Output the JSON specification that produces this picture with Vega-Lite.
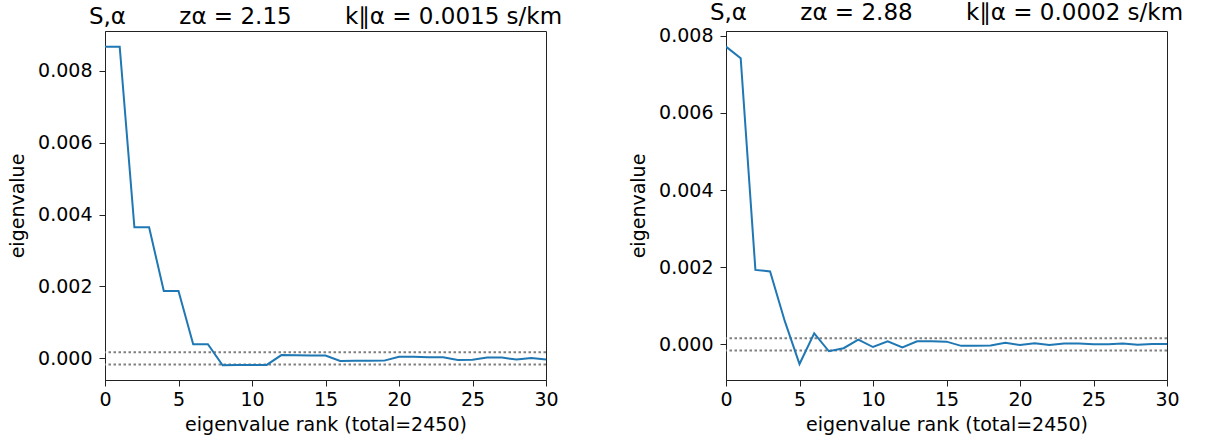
{
  "$schema": "https://vega.github.io/schema/vega-lite/v6.json",
  "padding": {"left": 8, "top": 1, "right": 5, "bottom": 5},
  "bounds": "flush",
  "spacing": 180,
  "config": {
    "font": "DejaVu Sans",
    "view": {"stroke": "#222", "strokeWidth": 1},
    "axis": {
      "grid": false,
      "domainColor": "#222",
      "tickColor": "#222",
      "tickSize": 6,
      "labelFont": "DejaVu Sans",
      "titleFont": "DejaVu Sans",
      "labelFontSize": 19,
      "titleFontSize": 19,
      "labelColor": "#000",
      "titleColor": "#000",
      "titleFontWeight": "normal",
      "labelFlush": false,
      "labelOverlap": false
    },
    "axisY": {"labelPadding": 7, "titlePadding": 10},
    "axisX": {"labelPadding": 4, "titlePadding": 6},
    "title": {"font": "DejaVu Sans", "fontSize": 23, "fontWeight": "normal", "color": "#000", "anchor": "middle", "offset": 2}
  },
  "datasets": {
    "left": [
      {"rank": 0, "value": 0.00867}, {"rank": 1, "value": 0.00867},
      {"rank": 2, "value": 0.003645}, {"rank": 3, "value": 0.003645},
      {"rank": 4, "value": 0.00187}, {"rank": 5, "value": 0.00187},
      {"rank": 6, "value": 0.00039}, {"rank": 7, "value": 0.00039},
      {"rank": 8, "value": -0.000195}, {"rank": 9, "value": -0.00019},
      {"rank": 10, "value": -0.000185}, {"rank": 11, "value": -0.000185},
      {"rank": 12, "value": 0.000088}, {"rank": 13, "value": 0.000085},
      {"rank": 14, "value": 0.00008}, {"rank": 15, "value": 0.000075},
      {"rank": 16, "value": -0.000072}, {"rank": 17, "value": -0.00007},
      {"rank": 18, "value": -0.000068}, {"rank": 19, "value": -0.000065},
      {"rank": 20, "value": 0.000045}, {"rank": 21, "value": 0.00004},
      {"rank": 22, "value": 0.000032}, {"rank": 23, "value": 0.000028},
      {"rank": 24, "value": -0.000045}, {"rank": 25, "value": -0.00004},
      {"rank": 26, "value": 0.00002}, {"rank": 27, "value": 0.00002},
      {"rank": 28, "value": -0.000035}, {"rank": 29, "value": 0.00001},
      {"rank": 30, "value": -0.000035}
    ],
    "right": [
      {"rank": 0, "value": 0.00772}, {"rank": 1, "value": 0.00742},
      {"rank": 2, "value": 0.00193}, {"rank": 3, "value": 0.00189},
      {"rank": 4, "value": 0.0006}, {"rank": 5, "value": -0.00051},
      {"rank": 6, "value": 0.000285}, {"rank": 7, "value": -0.00018},
      {"rank": 8, "value": -0.0001}, {"rank": 9, "value": 0.00012},
      {"rank": 10, "value": -0.00007}, {"rank": 11, "value": 0.00008},
      {"rank": 12, "value": -0.00008}, {"rank": 13, "value": 0.00008},
      {"rank": 14, "value": 0.00008}, {"rank": 15, "value": 0.00007},
      {"rank": 16, "value": -0.00004}, {"rank": 17, "value": -0.00004},
      {"rank": 18, "value": -0.00003}, {"rank": 19, "value": 0.00004},
      {"rank": 20, "value": -0.00002}, {"rank": 21, "value": 0.00003},
      {"rank": 22, "value": -0.00002}, {"rank": 23, "value": 0.00002},
      {"rank": 24, "value": 0.00002}, {"rank": 25, "value": 0.0},
      {"rank": 26, "value": 0.0}, {"rank": 27, "value": 0.00002},
      {"rank": 28, "value": -0.00001}, {"rank": 29, "value": 0.00001},
      {"rank": 30, "value": 0.00001}
    ],
    "thrLeft": [{"v": 0.00017}, {"v": -0.00017}],
    "thrRight": [{"v": 0.000158}, {"v": -0.000158}]
  },
  "hconcat": [
    {
      "width": 441,
      "height": 349,
      "title": "S,α\u2003\u2003 zα = 2.15\u2003\u2003 k∥α = 0.0015 s/km",
      "layer": [
        {
          "data": {"name": "thrLeft"},
          "mark": {"type": "rule", "color": "#808080", "strokeWidth": 2, "strokeDash": [2.5, 2.5]},
          "encoding": {
            "y": {"field": "v", "type": "quantitative", "scale": {"domain": [-0.000604, 0.009105], "nice": false, "zero": false}}
          }
        },
        {
          "data": {"name": "left"},
          "mark": {"type": "line", "color": "#1f77b4", "strokeWidth": 2, "clip": true},
          "encoding": {
            "x": {"field": "rank", "type": "quantitative", "scale": {"domain": [0, 30], "nice": false, "zero": false},
                  "axis": {"values": [0, 5, 10, 15, 20, 25, 30], "title": "eigenvalue rank (total=2450)"}},
            "y": {"field": "value", "type": "quantitative", "scale": {"domain": [-0.000604, 0.009105], "nice": false, "zero": false},
                  "axis": {"values": [0, 0.002, 0.004, 0.006, 0.008], "format": ".3f", "title": "eigenvalue"}}
          }
        }
      ]
    },
    {
      "width": 441,
      "height": 349,
      "title": "S,α\u2003\u2003 zα = 2.88\u2003\u2003 k∥α = 0.0002 s/km",
      "layer": [
        {
          "data": {"name": "thrRight"},
          "mark": {"type": "rule", "color": "#808080", "strokeWidth": 2, "strokeDash": [2.5, 2.5]},
          "encoding": {
            "y": {"field": "v", "type": "quantitative", "scale": {"domain": [-0.000925, 0.008125], "nice": false, "zero": false}}
          }
        },
        {
          "data": {"name": "right"},
          "mark": {"type": "line", "color": "#1f77b4", "strokeWidth": 2, "clip": true},
          "encoding": {
            "x": {"field": "rank", "type": "quantitative", "scale": {"domain": [0, 30], "nice": false, "zero": false},
                  "axis": {"values": [0, 5, 10, 15, 20, 25, 30], "title": "eigenvalue rank (total=2450)"}},
            "y": {"field": "value", "type": "quantitative", "scale": {"domain": [-0.000925, 0.008125], "nice": false, "zero": false},
                  "axis": {"values": [0, 0.002, 0.004, 0.006, 0.008], "format": ".3f", "title": "eigenvalue"}}
          }
        }
      ]
    }
  ]
}
